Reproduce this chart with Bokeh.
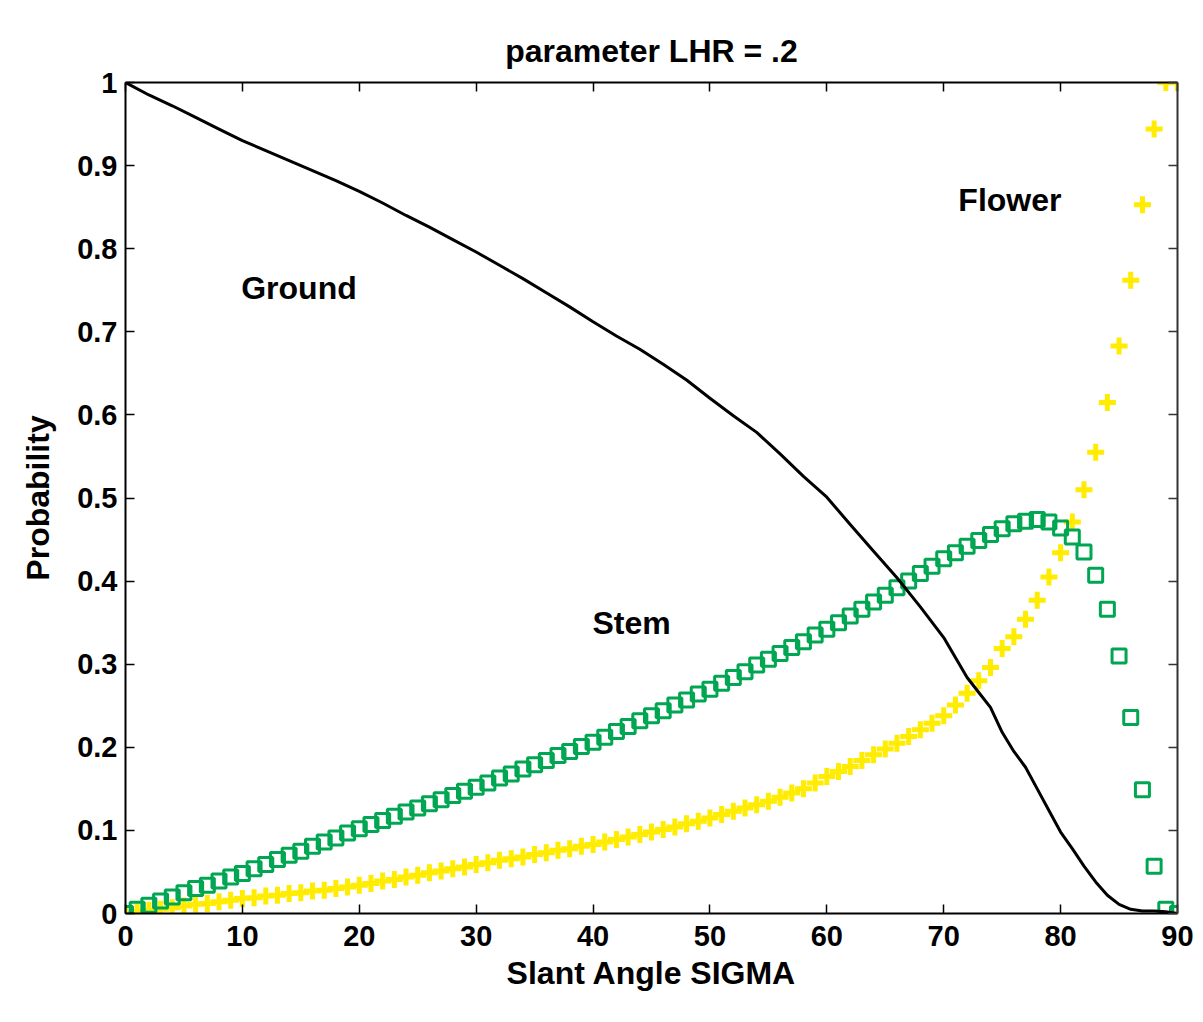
from bokeh.plotting import figure
from bokeh.models import Range1d, LinearAxis, FixedTicker, Label
from bokeh.embed import file_html
from bokeh.resources import INLINE

# ---------------- data ----------------
ground_x = [0, 2, 4, 6, 8, 10, 12, 14, 16, 18, 20, 22, 24, 26, 28, 30, 32, 34, 36, 38,
            40, 42, 44, 46, 48, 50, 52, 54, 56, 58, 60, 62, 64, 66, 68, 70, 72, 73, 74,
            75, 76, 77, 78, 79, 80, 81, 82, 83, 84, 85, 86, 87, 88, 89, 90]
ground_y = [1.000, 0.985, 0.972, 0.958, 0.944, 0.930, 0.918, 0.906, 0.894, 0.882, 0.869,
            0.855, 0.840, 0.826, 0.811, 0.796, 0.780, 0.764, 0.747, 0.730, 0.712, 0.695,
            0.679, 0.661, 0.642, 0.620, 0.599, 0.579, 0.553, 0.526, 0.501, 0.468, 0.436,
            0.404, 0.369, 0.332, 0.284, 0.266, 0.248, 0.218, 0.195, 0.176, 0.150, 0.124,
            0.098, 0.078, 0.057, 0.038, 0.022, 0.011, 0.005, 0.003, 0.003, 0.002, 0.000]

angle = list(range(0, 91))
stem = [0.000, 0.005, 0.010, 0.015, 0.020, 0.025, 0.030, 0.034, 0.039, 0.044,
        0.048, 0.054, 0.059, 0.065, 0.070, 0.075, 0.081, 0.086, 0.091, 0.097,
        0.102, 0.107, 0.112, 0.117, 0.122, 0.127, 0.132, 0.137, 0.142, 0.147,
        0.152, 0.157, 0.163, 0.168, 0.174, 0.179, 0.184, 0.190, 0.195, 0.201,
        0.206, 0.212, 0.219, 0.225, 0.232, 0.238, 0.244, 0.251, 0.257, 0.264,
        0.270, 0.277, 0.284, 0.291, 0.299, 0.306, 0.313, 0.320, 0.327, 0.335,
        0.342, 0.350, 0.358, 0.366, 0.375, 0.383, 0.392, 0.400, 0.409, 0.418,
        0.427, 0.434, 0.442, 0.449, 0.456, 0.463, 0.469, 0.472, 0.474, 0.471,
        0.464, 0.453, 0.435, 0.407, 0.366, 0.310, 0.236, 0.149, 0.057, 0.005,
        0.000]
flower = [0.000, 0.002, 0.004, 0.005, 0.007, 0.009, 0.011, 0.012, 0.014, 0.016,
          0.018, 0.019, 0.021, 0.022, 0.024, 0.025, 0.027, 0.028, 0.030, 0.032,
          0.034, 0.036, 0.039, 0.041, 0.044, 0.046, 0.049, 0.051, 0.054, 0.056,
          0.059, 0.061, 0.064, 0.066, 0.068, 0.071, 0.073, 0.076, 0.078, 0.081,
          0.083, 0.086, 0.089, 0.092, 0.095, 0.098, 0.101, 0.104, 0.108, 0.111,
          0.115, 0.119, 0.123, 0.127, 0.131, 0.135, 0.140, 0.145, 0.150, 0.157,
          0.165, 0.171, 0.177, 0.184, 0.191, 0.198, 0.205, 0.213, 0.221, 0.229,
          0.238, 0.251, 0.265, 0.280, 0.296, 0.319, 0.333, 0.354, 0.377, 0.405,
          0.434, 0.471, 0.510, 0.555, 0.615, 0.683, 0.762, 0.853, 0.944, 1.000,
          1.000]

x_ticks = [0, 10, 20, 30, 40, 50, 60, 70, 80, 90]
y_ticks = [0, 0.1, 0.2, 0.3, 0.4, 0.5, 0.6, 0.7, 0.8, 0.9, 1]
y_tick_labels = ["0", "0.1", "0.2", "0.3", "0.4", "0.5", "0.6", "0.7", "0.8", "0.9", "1"]

title_text = "parameter LHR = .2"
x_label = "Slant Angle SIGMA"
y_label = "Probability"
region_names = ["Ground", "Stem", "Flower"]
region_pos = [(9.9, 0.753), (39.95, 0.350), (71.25, 0.859)]

# ---------------- figure ----------------
FONT = "Liberation Sans"
W, H = 1195, 998
p = figure(width=W, height=H, output_backend="svg", toolbar_location=None,
           x_range=Range1d(0, 90), y_range=Range1d(0, 1),
           x_axis_location=None, y_axis_location=None,
           title=title_text,
           min_border_left=125, min_border_right=18,
           min_border_top=82, min_border_bottom=85)
p.background_fill_color = "white"
p.border_fill_color = "white"
p.outline_line_color = None
p.xgrid.visible = False
p.ygrid.visible = False

p.title.align = "center"
p.title.text_font = FONT
p.title.text_font_style = "bold"
p.title.text_font_size = "32px"
p.title.text_color = "black"
p.title.standoff = 28

def style_axis(ax, labels=True, color="black"):
    ax.axis_line_color = color
    ax.axis_line_width = 2
    ax.major_tick_line_color = color
    ax.major_tick_line_width = 1.5
    ax.major_tick_in = 9
    ax.major_tick_out = 0
    ax.minor_tick_line_color = None
    ax.major_label_text_font = FONT
    ax.major_label_text_font_style = "bold"
    ax.major_label_text_font_size = "29px"
    ax.major_label_text_color = "black"
    ax.axis_label_text_font = FONT
    ax.axis_label_text_font_style = "bold"
    ax.axis_label_text_font_size = "32px"
    ax.axis_label_text_color = "black"
    if not labels:
        ax.major_label_text_font_size = "0px"
        ax.major_label_text_color = None

xb = LinearAxis(ticker=FixedTicker(ticks=x_ticks), axis_label=x_label)
style_axis(xb)
xb.major_label_standoff = 12
xb.axis_label_standoff = 6
p.add_layout(xb, "below")

yl = LinearAxis(ticker=FixedTicker(ticks=y_ticks), axis_label=y_label)
style_axis(yl)
yl.major_label_overrides = {t: s for t, s in zip(y_ticks, y_tick_labels)}
yl.major_label_standoff = 8
yl.axis_label_standoff = 18
p.add_layout(yl, "left")

xt = LinearAxis(ticker=FixedTicker(ticks=x_ticks))
style_axis(xt, labels=False)
xt.major_label_standoff = 0
p.add_layout(xt, "above")

yr = LinearAxis(ticker=FixedTicker(ticks=y_ticks))
style_axis(yr, labels=False, color="#333333")
yr.major_label_standoff = 0
p.add_layout(yr, "right")

# ---------------- data glyphs ----------------
p.scatter(angle, flower, marker="cross", size=17, line_width=5,
          line_color="#FFEC00")
p.scatter(angle, stem, marker="square", size=14, line_width=3,
          line_color="#00A651", fill_color=None)
p.line(ground_x, ground_y, line_color="black", line_width=3)

# ---------------- texts ----------------
for name, (lx, ly) in zip(region_names, region_pos):
    p.add_layout(Label(x=lx, y=ly, text=name, text_align="left", text_baseline="middle",
                       text_font=FONT, text_font_style="bold", text_font_size="32px",
                       text_color="black"))

open("out.html", "w").write(file_html(p, INLINE))
